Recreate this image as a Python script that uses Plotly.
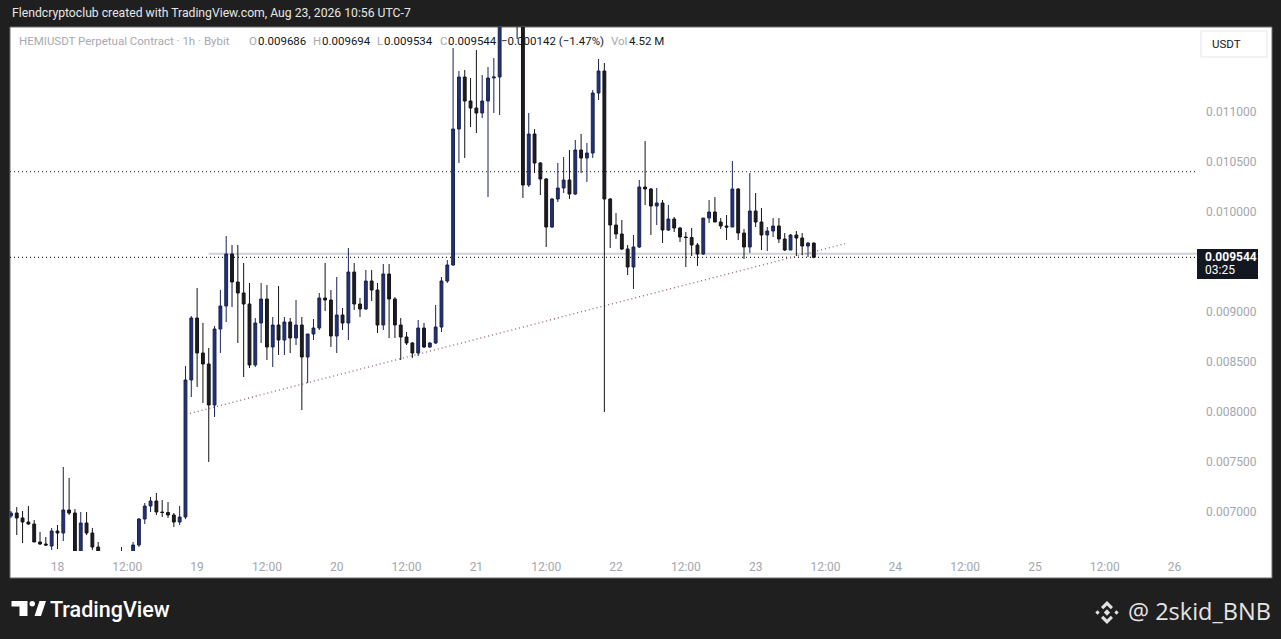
import plotly.graph_objects as go
import pandas as pd

# ---------------- data (1h candles, HEMIUSDT Perpetual, Bybit) ----------------
start_time = "2026-08-17 16:00"
opens = [
    0.006957, 0.006987, 0.006937, 0.006897, 0.006877, 0.006697, 0.006677, 0.006657,
    0.006807, 0.006787, 0.007017, 0.006987, 0.006557, 0.006887, 0.006787, 0.006647,
    0.006557, 0.006517, 0.006537, 0.006497, 0.006537, 0.006557, 0.006667, 0.006927,
    0.007057, 0.007107, 0.006997, 0.006992, 0.006967, 0.006897, 0.006947, 0.008317,
    0.008937, 0.008587, 0.008477, 0.008067, 0.008827, 0.009057, 0.009577, 0.009297,
    0.009187, 0.009077, 0.008467, 0.008887, 0.009127, 0.008647, 0.008867, 0.008717,
    0.008897, 0.008737, 0.008867, 0.008547, 0.008777, 0.008837, 0.009137, 0.009117,
    0.008757, 0.008967, 0.008887, 0.009397, 0.009077, 0.009027, 0.009307, 0.009217,
    0.008867, 0.009377, 0.009127, 0.008867, 0.008747, 0.008687, 0.008587, 0.008837,
    0.008647, 0.008687, 0.008847, 0.009307, 0.009467, 0.010827, 0.011347, 0.011107,
    0.011037, 0.010987, 0.011107, 0.011337, 0.011347, 0.012067, 0.012317, 0.012117,
    0.012017, 0.010267, 0.010777, 0.010487, 0.010327, 0.009847, 0.010127, 0.010237,
    0.010317, 0.010177, 0.010617, 0.010537, 0.010587, 0.011187, 0.011407, 0.010127,
    0.009867, 0.009777, 0.009627, 0.009447, 0.009647, 0.010247, 0.010227, 0.010057,
    0.010087, 0.009817, 0.009927, 0.009837, 0.009747, 0.009742, 0.009667, 0.009577,
    0.009937, 0.009997, 0.009897, 0.009857, 0.009847, 0.010227, 0.009787, 0.009647,
    0.010007, 0.009897, 0.009767, 0.009807, 0.009857, 0.009727, 0.009617, 0.009767,
    0.009737, 0.009657, 0.009686,
]
highs = [
    0.007007, 0.007047, 0.007007, 0.007057, 0.006917, 0.006797, 0.006747, 0.006837,
    0.006867, 0.007447, 0.007337, 0.007027, 0.006997, 0.006997, 0.006837, 0.006697,
    0.006587, 0.006577, 0.006587, 0.006647, 0.006587, 0.006697, 0.006937, 0.007087,
    0.007147, 0.007187, 0.007117, 0.007097, 0.006987, 0.007057, 0.008457, 0.008957,
    0.009237, 0.008887, 0.008637, 0.008857, 0.009217, 0.009757, 0.009667, 0.009667,
    0.009487, 0.009287, 0.008937, 0.009287, 0.009267, 0.008947, 0.009257, 0.008947,
    0.008937, 0.009117, 0.008947, 0.008777, 0.008927, 0.009187, 0.009487, 0.009217,
    0.009347, 0.009037, 0.009637, 0.009487, 0.009137, 0.009417, 0.009417, 0.009287,
    0.009477, 0.009477, 0.009147, 0.008937, 0.008797, 0.008697, 0.008917, 0.008887,
    0.008697, 0.009067, 0.009347, 0.009517, 0.011637, 0.011407, 0.011417, 0.011337,
    0.011617, 0.011367, 0.011447, 0.011537, 0.012167, 0.012517, 0.012417, 0.012267,
    0.012067, 0.010987, 0.010827, 0.010497, 0.010337, 0.010137, 0.010487, 0.010547,
    0.010617, 0.010717, 0.010777, 0.010687, 0.011217, 0.011527, 0.011487, 0.010137,
    0.009987, 0.009917, 0.009667, 0.009767, 0.010317, 0.010707, 0.010237, 0.010237,
    0.010117, 0.010067, 0.009947, 0.009847, 0.009797, 0.009837, 0.009687, 0.009937,
    0.010117, 0.010147, 0.009937, 0.009967, 0.010507, 0.010237, 0.009827, 0.010387,
    0.010187, 0.010037, 0.009847, 0.009937, 0.009937, 0.009787, 0.009777, 0.009807,
    0.009787, 0.009697, 0.009694,
]
lows = [
    0.006937, 0.006767, 0.006687, 0.006867, 0.006697, 0.006667, 0.006657, 0.006617,
    0.006627, 0.006707, 0.006967, 0.006537, 0.006537, 0.006767, 0.006617, 0.006537,
    0.006467, 0.006457, 0.006437, 0.006457, 0.006497, 0.006537, 0.006647, 0.006877,
    0.006997, 0.006967, 0.006947, 0.006937, 0.006847, 0.006867, 0.006927, 0.008147,
    0.008247, 0.008087, 0.007497, 0.007947, 0.008587, 0.008897, 0.009047, 0.008687,
    0.008347, 0.008437, 0.008447, 0.008687, 0.008517, 0.008447, 0.008567, 0.008567,
    0.008587, 0.008667, 0.008017, 0.008287, 0.008717, 0.008817, 0.009007, 0.008647,
    0.008587, 0.008817, 0.008717, 0.009017, 0.008947, 0.009017, 0.009107, 0.008787,
    0.008817, 0.008737, 0.008737, 0.008517, 0.008667, 0.008537, 0.008557, 0.008637,
    0.008637, 0.008677, 0.008797, 0.009287, 0.009457, 0.010487, 0.010537, 0.010847,
    0.010787, 0.010937, 0.010147, 0.010987, 0.010967, 0.011967, 0.011997, 0.011727,
    0.010137, 0.010247, 0.010387, 0.010167, 0.009647, 0.009837, 0.010097, 0.010187,
    0.010127, 0.010167, 0.010387, 0.010297, 0.010537, 0.011117, 0.007997, 0.009637,
    0.009727, 0.009617, 0.009367, 0.009227, 0.009637, 0.010067, 0.009767, 0.009867,
    0.009687, 0.009807, 0.009797, 0.009697, 0.009447, 0.009557, 0.009457, 0.009567,
    0.009887, 0.009897, 0.009827, 0.009717, 0.009847, 0.009717, 0.009527, 0.009587,
    0.009847, 0.009617, 0.009607, 0.009747, 0.009687, 0.009607, 0.009617, 0.009557,
    0.009567, 0.009547, 0.009534,
]
closes = [
    0.006987, 0.006937, 0.006897, 0.006877, 0.006697, 0.006677, 0.006667, 0.006807,
    0.006787, 0.007017, 0.006987, 0.006557, 0.006887, 0.006787, 0.006647, 0.006557,
    0.006517, 0.006537, 0.006497, 0.006537, 0.006557, 0.006667, 0.006927, 0.007057,
    0.007107, 0.006997, 0.006992, 0.006967, 0.006897, 0.006947, 0.008317, 0.008937,
    0.008587, 0.008477, 0.008067, 0.008827, 0.009057, 0.009577, 0.009297, 0.009187,
    0.009077, 0.008467, 0.008887, 0.009127, 0.008647, 0.008867, 0.008717, 0.008897,
    0.008737, 0.008867, 0.008547, 0.008777, 0.008837, 0.009137, 0.009117, 0.008757,
    0.008967, 0.008887, 0.009397, 0.009077, 0.009027, 0.009307, 0.009217, 0.008867,
    0.009377, 0.009127, 0.008867, 0.008747, 0.008687, 0.008587, 0.008837, 0.008647,
    0.008687, 0.008847, 0.009307, 0.009467, 0.010827, 0.011347, 0.011107, 0.011037,
    0.010987, 0.011107, 0.011337, 0.011347, 0.012067, 0.012317, 0.012117, 0.012017,
    0.010267, 0.010777, 0.010487, 0.010327, 0.009847, 0.010127, 0.010237, 0.010317,
    0.010177, 0.010617, 0.010537, 0.010587, 0.011187, 0.011407, 0.010127, 0.009867,
    0.009777, 0.009627, 0.009447, 0.009647, 0.010247, 0.010227, 0.010057, 0.010087,
    0.009817, 0.009927, 0.009837, 0.009747, 0.009742, 0.009667, 0.009577, 0.009937,
    0.009997, 0.009897, 0.009857, 0.009847, 0.010227, 0.009787, 0.009647, 0.010007,
    0.009897, 0.009767, 0.009807, 0.009857, 0.009727, 0.009617, 0.009767, 0.009737,
    0.009657, 0.009686, 0.009544,
]

last_price = 0.009544
resistance_level = 0.010400
support_level = 0.009580
support_start = "2026-08-19 02:00"
trend_start = ("2026-08-18 22:46", 0.007984)
trend_end = ("2026-08-23 15:21", 0.009681)

price_ticks = [0.0070, 0.0075, 0.0080, 0.0085, 0.0090, 0.0100, 0.0105, 0.0110]
price_tick_text = ["0.007000", "0.007500", "0.008000", "0.008500", "0.009000",
                   "0.010000", "0.010500", "0.011000"]
time_ticks = pd.date_range("2026-08-18 00:00", "2026-08-26 00:00", freq="12h")
time_tick_text = ["18", "12:00", "19", "12:00", "20", "12:00", "21", "12:00", "22",
                  "12:00", "23", "12:00", "24", "12:00", "25", "12:00", "26"]

times = pd.date_range(start_time, periods=len(opens), freq="h")

# ---------------- layout helpers (pixel -> paper) ----------------
W, H = 1281, 639
L_PX, R_PX, T_PX, B_PX = 10, 1197, 27, 551


def px(x):
    return (x - L_PX) / (R_PX - L_PX)


def py(y):
    return (B_PX - y) / (B_PX - T_PX)


UP_FILL = "#24326f"
UP_LINE = "#1a2356"
DN_FILL = "#1c1c22"
DN_LINE = "#141418"
AXIS_TXT = "#a3a6ae"
FONT = "Roboto, 'Liberation Sans', sans-serif"
FINE_DOT = "1px,3px"

fig = go.Figure()
fig.add_trace(go.Candlestick(
    x=times, open=opens, high=highs, low=lows, close=closes,
    increasing=dict(fillcolor=UP_FILL, line=dict(color=UP_LINE, width=1)),
    decreasing=dict(fillcolor=DN_FILL, line=dict(color=DN_LINE, width=1)),
    whiskerwidth=0, showlegend=False, hoverinfo="skip",
))

shapes = []
# white chart pane (incl. axis areas)
shapes.append(dict(type="rect", xref="paper", yref="paper", layer="below",
                   x0=px(10), x1=px(1272), y0=py(578), y1=py(27),
                   fillcolor="white", line=dict(color="#6e6e6e", width=1)))
# horizontal dotted resistance
shapes.append(dict(type="line", xref="paper", yref="y", layer="below",
                   x0=0, x1=1, y0=resistance_level, y1=resistance_level,
                   line=dict(color="#444444", width=1.3, dash=FINE_DOT)))
# light grey horizontal ray
shapes.append(dict(type="line", xref="x", yref="y", layer="below",
                   x0=support_start, x1="2026-08-26 03:51:36",
                   y0=support_level, y1=support_level,
                   line=dict(color="#cfd1d6", width=2)))
# last price dotted line
shapes.append(dict(type="line", xref="paper", yref="y", layer="below",
                   x0=0, x1=1, y0=last_price, y1=last_price,
                   line=dict(color="#222222", width=1.3, dash=FINE_DOT)))
# rising trend line
shapes.append(dict(type="line", xref="x", yref="y", layer="below",
                   x0=trend_start[0], y0=trend_start[1],
                   x1=trend_end[0], y1=trend_end[1],
                   line=dict(color="#8f5a7b", width=1.3, dash=FINE_DOT)))
# price label box
shapes.append(dict(type="rect", xref="paper", yref="paper",
                   x0=px(1197), x1=px(1258), y0=py(279), y1=py(249),
                   fillcolor="#131722", line=dict(width=0)))
# USDT box
shapes.append(dict(type="rect", xref="paper", yref="paper",
                   x0=px(1201), x1=px(1267), y0=py(57), y1=py(31),
                   fillcolor="white", line=dict(color="#e3e5ea", width=1)))


def poly(points, color):
    d = "M " + " L ".join(f"{px(a):.5f},{py(b):.5f}" for a, b in points) + " Z"
    return dict(type="path", xref="paper", yref="paper", path=d,
                fillcolor=color, line=dict(width=0))


# TradingView logo
shapes.append(poly([(11.5, 601), (27.5, 601), (27.5, 616), (19.5, 616), (19.5, 606.5), (11.5, 606.5)], "#ffffff"))
shapes.append(dict(type="circle", xref="paper", yref="paper",
                   x0=px(29.5), x1=px(35), y0=py(606.5), y1=py(601),
                   fillcolor="#ffffff", line=dict(width=0)))
shapes.append(poly([(34.5, 616), (41, 616), (46, 601), (39.5, 601)], "#ffffff"))


# Binance-like diamond logo
def diamond(cx, cy, r, color="#e2e2e2"):
    return poly([(cx, cy - r), (cx + r, cy), (cx, cy + r), (cx - r, cy)], color)


shapes.append(diamond(1107, 612.5, 3.2))
shapes.append(diamond(1097.5, 612.5, 2.2))
shapes.append(diamond(1116.5, 612.5, 2.2))
shapes.append(poly([(1107, 601), (1113, 607), (1110.8, 609.2), (1107, 605.4), (1103.2, 609.2), (1101, 607)], "#e2e2e2"))
shapes.append(poly([(1107, 624), (1113, 618), (1110.8, 615.8), (1107, 619.6), (1103.2, 615.8), (1101, 618)], "#e2e2e2"))

ann = []


def text(x, y, s, size=12, color="#131722", anchor="left", family=FONT, weight=None):
    f = dict(size=size, color=color, family=family)
    if weight:
        f["weight"] = weight
    ann.append(dict(x=px(x), y=py(y), xref="paper", yref="paper", text=s,
                    showarrow=False, xanchor=anchor, yanchor="middle", font=f))


text(10, 13, "Flendcryptoclub created with TradingView.com, Aug 23, 2026 10:56 UTC-7",
     size=12.2, color="#e6e6e6", family="'Liberation Sans Narrow', Roboto, sans-serif")

LG = "#a6a9b1"
LV = "#131722"
LS = 11.5
text(17, 41, "HEMIUSDT Perpetual Contract · 1h · Bybit", LS, LG)
text(247, 41, "O", LS, LG)
text(256, 41, "0.009686", LS, LV)
text(311, 41, "H", LS, LG)
text(320, 41, "0.009694", LS, LV)
text(375, 41, "L", LS, LG)
text(382, 41, "0.009534", LS, LV)
text(438, 41, "C", LS, LG)
text(446, 41, "0.009544", LS, LV)
text(499, 41, "\u22120.000142 (\u22121.47%)", LS, LV)
text(609, 41, "Vol", LS, LG)
text(627, 41, "4.52 M", LS, LV)

text(1203, 257, "0.009544", 12, "#ffffff", weight="bold")
text(1203, 270, "03:25", 12, "#ffffff")
text(1210, 44, "USDT", 11.5, "#131722")

text(48, 609, "TradingView", 21.5, "#ffffff", family="Roboto, sans-serif", weight=500)
text(1273, 611, "@ 2skid_BNB", 23.5, "#e4e4e4", anchor="right", family="'Open Sans', sans-serif")

fig.update_layout(
    width=W, height=H,
    margin=dict(l=L_PX, r=W - R_PX, t=T_PX, b=H - B_PX, pad=0),
    paper_bgcolor="#1f1f1f", plot_bgcolor="white",
    shapes=shapes, annotations=ann, showlegend=False,
    font=dict(family=FONT, size=12, color=AXIS_TXT),
    xaxis=dict(type="date", range=["2026-08-17 15:50:24", "2026-08-26 03:51:36"],
               rangeslider=dict(visible=False), showgrid=False, zeroline=False,
               showline=False, ticks="", tickvals=list(time_ticks), ticktext=time_tick_text,
               tickfont=dict(size=12, color=AXIS_TXT), ticklabelstandoff=7, fixedrange=True),
    yaxis=dict(side="right", range=[0.006607, 0.011847], showgrid=False, zeroline=False,
               showline=False, ticks="", tickvals=price_ticks, ticktext=price_tick_text,
               tickfont=dict(size=12, color=AXIS_TXT), ticklabelstandoff=8, fixedrange=True),
)

fig.write_html("out.html", config={"displayModeBar": False},
               post_script="document.body.style.margin='0';document.body.style.overflow='hidden';"
                           "document.body.style.background='#1f1f1f';")
